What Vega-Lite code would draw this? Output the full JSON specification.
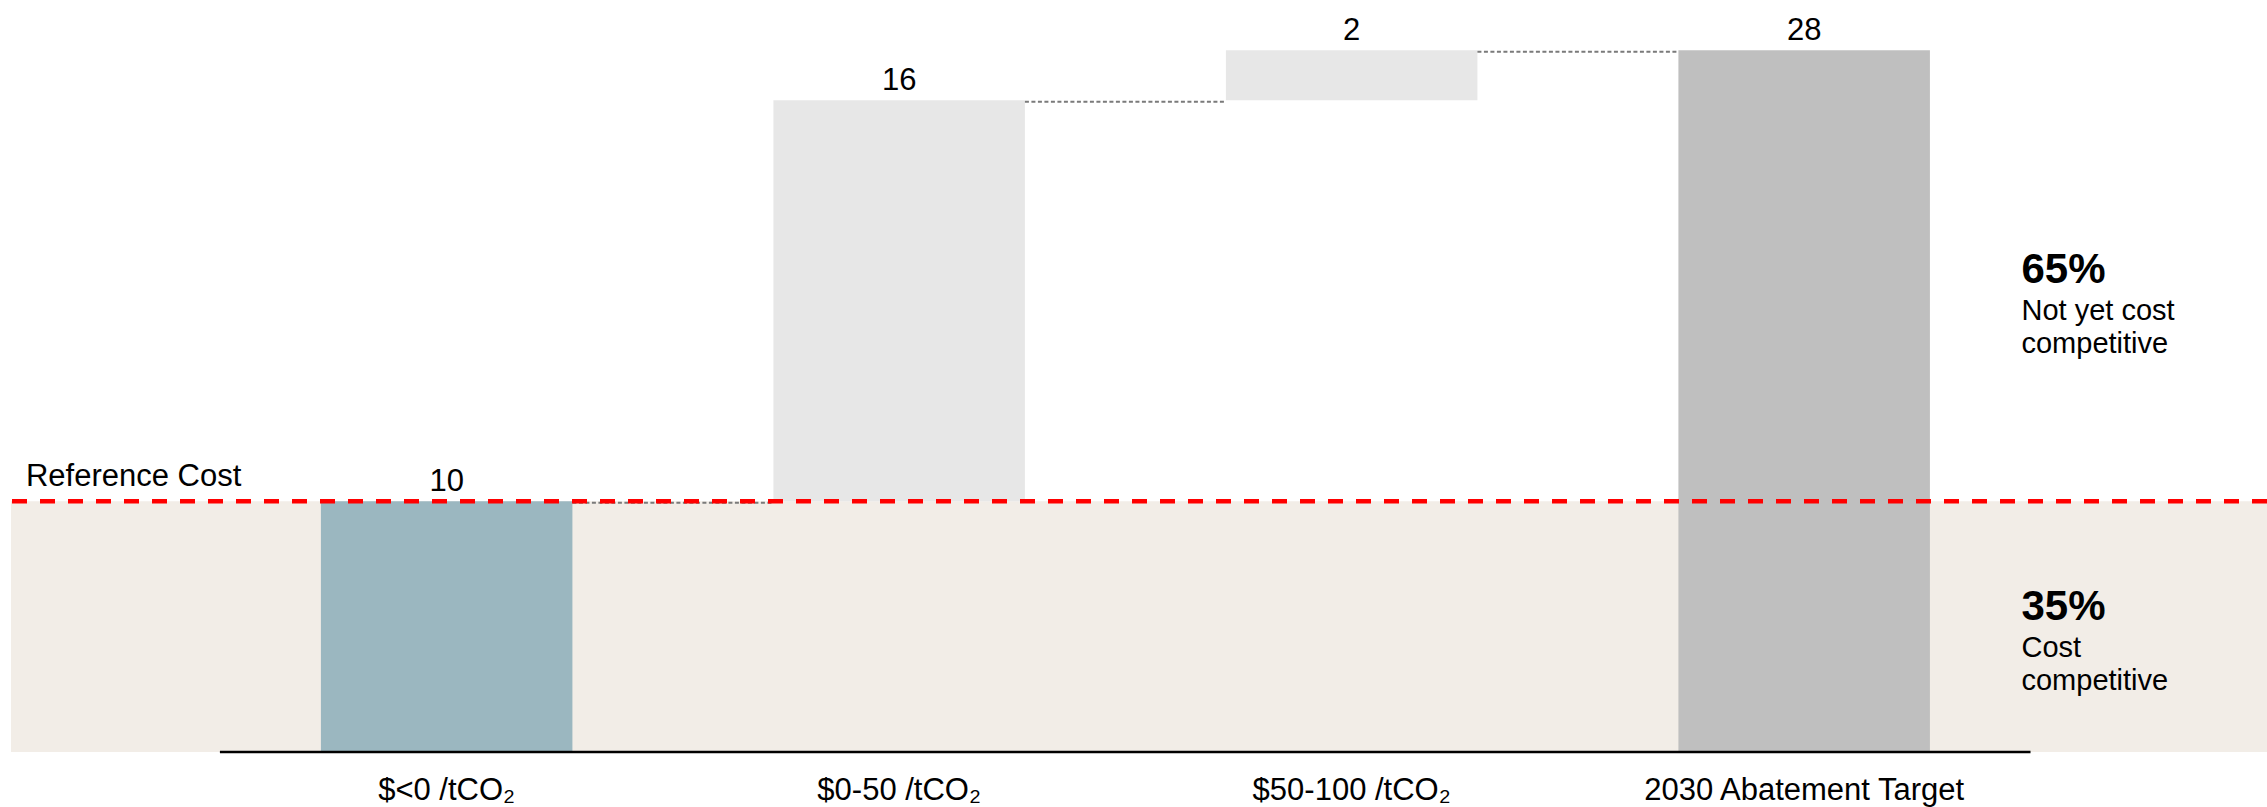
{
  "$schema": "https://vega.github.io/schema/vega-lite/v6.json",
  "width": 2256,
  "height": 752,
  "autosize": "none",
  "padding": {"left": 11, "top": 0, "right": 0, "bottom": 55},
  "background": "#ffffff",
  "datasets": {
    "steps": [
      {"order": 1, "category": "$<0 /tCO₂", "amount": 10, "kind": "step", "group": "Cost competitive"},
      {"order": 2, "category": "$0-50 /tCO₂", "amount": 16, "kind": "step", "group": "Not yet cost competitive"},
      {"order": 3, "category": "$50-100 /tCO₂", "amount": 2, "kind": "step", "group": "Not yet cost competitive"},
      {"order": 4, "category": "2030 Abatement Target", "amount": 28, "kind": "total", "group": "Total"}
    ],
    "reference": [
      {"label": "Reference Cost", "cost": 10}
    ]
  },
  "config": {
    "view": {"stroke": null},
    "font": "Liberation Sans",
    "text": {"font": "Liberation Sans", "fontSize": 31, "color": "#000000"},
    "axisY": {"disable": true},
    "axisX": {
      "domain": false,
      "ticks": false,
      "grid": false,
      "labelAngle": 0,
      "labelLimit": 0,
      "labelFont": "Liberation Sans",
      "labelFontSize": 31,
      "labelColor": "#000000",
      "labelPadding": 47,
      "labelBaseline": "alphabetic"
    }
  },
  "layer": [
    {
      "description": "Cost-competitive zone: everything below the reference cost",
      "data": {"name": "reference"},
      "mark": {"type": "rect", "color": "#F2EDE7"},
      "encoding": {
        "y": {"field": "cost", "type": "quantitative", "scale": {"domain": [0, 30], "nice": false}},
        "y2": {"datum": 0}
      }
    },
    {
      "description": "Incremental abatement bars (waterfall steps)",
      "data": {"name": "steps"},
      "transform": [
        {"filter": "datum.kind === 'step'"},
        {"stack": "amount", "groupby": [], "sort": [{"field": "order"}], "as": ["start", "end"]}
      ],
      "mark": {"type": "bar"},
      "encoding": {
        "x": {
          "field": "category", "type": "nominal", "title": null,
          "scale": {
            "domain": ["$<0 /tCO₂", "$0-50 /tCO₂", "$50-100 /tCO₂", "2030 Abatement Target"],
            "paddingInner": 0.4442, "paddingOuter": 0.7149, "align": 0.479
          }
        },
        "y": {"field": "end", "type": "quantitative"},
        "y2": {"field": "start"},
        "color": {
          "field": "group", "type": "nominal", "legend": null,
          "scale": {
            "domain": ["Cost competitive", "Not yet cost competitive", "Total"],
            "range": ["#9BB7C0", "#E7E7E7", "#BFBFBF"]
          }
        }
      }
    },
    {
      "description": "Total bar",
      "data": {"name": "steps"},
      "transform": [{"filter": "datum.kind === 'total'"}],
      "mark": {"type": "bar"},
      "encoding": {
        "x": {"field": "category", "type": "nominal", "title": null},
        "y": {"field": "amount", "type": "quantitative"},
        "y2": {"datum": 0},
        "color": {"field": "group", "type": "nominal", "legend": null}
      }
    },
    {
      "description": "Dashed connectors between consecutive bars",
      "data": {"name": "steps"},
      "transform": [
        {"window": [{"op": "lead", "field": "category", "as": "next"}], "sort": [{"field": "order"}]},
        {"filter": "datum.kind === 'step'"},
        {"stack": "amount", "groupby": [], "sort": [{"field": "order"}], "as": ["start", "end"]}
      ],
      "mark": {"type": "rule", "color": "#7A7A7A", "strokeWidth": 2, "strokeDash": [4, 2.5], "yOffset": 1.5},
      "encoding": {
        "x": {"field": "category", "type": "nominal", "bandPosition": 1, "title": null},
        "x2": {"field": "next", "bandPosition": 0},
        "y": {"field": "end", "type": "quantitative"}
      }
    },
    {
      "description": "Baseline under the bars",
      "data": {"name": "reference"},
      "mark": {"type": "rule", "color": "#000000", "strokeWidth": 2.5},
      "encoding": {
        "x": {"datum": "$<0 /tCO₂", "bandPosition": -0.4016, "title": null},
        "x2": {"datum": "2030 Abatement Target", "bandPosition": 1.4},
        "y": {"datum": 0, "type": "quantitative"}
      }
    },
    {
      "description": "Reference cost line",
      "data": {"name": "reference"},
      "mark": {"type": "rule", "color": "#FF0000", "strokeWidth": 4.5, "strokeDash": [15, 13]},
      "encoding": {
        "y": {"field": "cost", "type": "quantitative"}
      }
    },
    {
      "data": {"name": "reference"},
      "mark": {"type": "text", "align": "left", "baseline": "alphabetic", "dy": -15},
      "encoding": {
        "x": {"datum": "$<0 /tCO₂", "bandPosition": -1.173, "title": null},
        "y": {"field": "cost", "type": "quantitative"},
        "text": {"field": "label"}
      }
    },
    {
      "description": "Value labels above the steps",
      "data": {"name": "steps"},
      "transform": [
        {"filter": "datum.kind === 'step'"},
        {"stack": "amount", "groupby": [], "sort": [{"field": "order"}], "as": ["start", "end"]}
      ],
      "mark": {"type": "text", "align": "center", "baseline": "alphabetic", "dy": -10},
      "encoding": {
        "x": {"field": "category", "type": "nominal", "title": null},
        "y": {"field": "end", "type": "quantitative"},
        "text": {"field": "amount", "type": "quantitative"}
      }
    },
    {
      "description": "Value label above the total",
      "data": {"name": "steps"},
      "transform": [{"filter": "datum.kind === 'total'"}],
      "mark": {"type": "text", "align": "center", "baseline": "alphabetic", "dy": -10},
      "encoding": {
        "x": {"field": "category", "type": "nominal", "title": null},
        "y": {"field": "amount", "type": "quantitative"},
        "text": {"field": "amount", "type": "quantitative"}
      }
    },
    {
      "data": {"name": "reference"},
      "mark": {"type": "text", "text": "65%", "align": "left", "baseline": "alphabetic", "fontSize": 42, "fontWeight": "bold"},
      "encoding": {
        "x": {"datum": "2030 Abatement Target", "bandPosition": 1.364, "title": null},
        "y": {"datum": 18.71, "type": "quantitative"}
      }
    },
    {
      "data": {"name": "reference"},
      "mark": {"type": "text", "text": ["Not yet cost", "competitive"], "align": "left", "baseline": "alphabetic", "fontSize": 29, "lineHeight": 33},
      "encoding": {
        "x": {"datum": "2030 Abatement Target", "bandPosition": 1.364, "title": null},
        "y": {"datum": 17.23, "type": "quantitative"}
      }
    },
    {
      "data": {"name": "reference"},
      "mark": {"type": "text", "text": "35%", "align": "left", "baseline": "alphabetic", "fontSize": 42, "fontWeight": "bold"},
      "encoding": {
        "x": {"datum": "2030 Abatement Target", "bandPosition": 1.364, "title": null},
        "y": {"datum": 5.27, "type": "quantitative"}
      }
    },
    {
      "data": {"name": "reference"},
      "mark": {"type": "text", "text": ["Cost", "competitive"], "align": "left", "baseline": "alphabetic", "fontSize": 29, "lineHeight": 33},
      "encoding": {
        "x": {"datum": "2030 Abatement Target", "bandPosition": 1.364, "title": null},
        "y": {"datum": 3.79, "type": "quantitative"}
      }
    }
  ]
}
